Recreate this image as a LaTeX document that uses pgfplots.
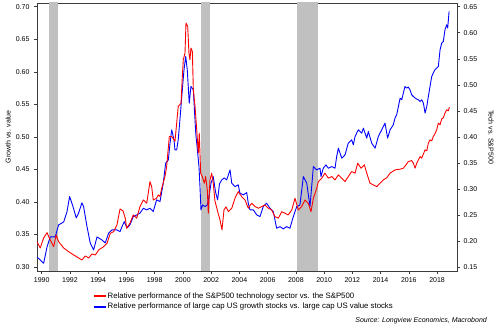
\documentclass[border=0pt]{standalone}
\usepackage{fontspec}
\setmainfont{Liberation Sans}
\usepackage{pgfplots}
\pgfplotsset{compat=1.18}
\definecolor{recgray}{RGB}{192,192,192}
\definecolor{lred}{RGB}{255,0,0}
\definecolor{lblue}{RGB}{0,0,255}
\definecolor{axgray}{RGB}{60,60,60}
\pgfplotsset{
  base/.style={
    scale only axis, width=420pt, height=268pt,
    at={(37pt,61pt)}, anchor=south west,
    xmin=1989.67, xmax=2019.41,
    axis line style={axgray, line width=0.6pt},
    tick style={axgray, line width=0.5pt},
    major tick length=3pt,
    tick align=outside,
    tick label style={font=\fontsize{7}{8}\selectfont, text=black},
    /pgf/number format/assume math mode=true,
  }
}
\begin{document}
\begin{tikzpicture}
\useasboundingbox (0,0) rectangle (500pt,332pt);
\begin{axis}[base,
  ymin=0.2938, ymax=0.7057,
  xtick={1990,1992,1994,1996,1998,2000,2002,2004,2006,2008,2010,2012,2014,2016,2018},
  xtick pos=bottom,
  xticklabel style={/pgf/number format/1000 sep={}},
  ytick={0.30,0.35,0.40,0.45,0.50,0.55,0.60,0.65,0.70},
  ytick pos=left,
  yticklabel style={/pgf/number format/fixed, /pgf/number format/fixed zerofill, /pgf/number format/precision=2, xshift=-1pt},
  ylabel={Growth vs. value},
  ylabel style={at={(axis description cs:-0.069,0.5)}, anchor=center, font=\fontsize{7}{8}\selectfont},
]
\addplot[fill=recgray, draw=none, forget plot] coordinates {(1990.52,0.71) (1991.18,0.71)} \closedcycle;
\addplot[fill=recgray, draw=none, forget plot] coordinates {(2001.26,0.71) (2001.92,0.71)} \closedcycle;
\addplot[fill=recgray, draw=none, forget plot] coordinates {(2008.05,0.71) (2009.55,0.71)} \closedcycle;
\addplot[lblue, line width=0.9pt, line join=round, forget plot] coordinates {
(1989.67,0.3154)(1990.14,0.3057)(1990.38,0.3308)(1990.61,0.3462)(1990.96,0.3462)(1991.20,0.3646)(1991.56,0.3692)(1991.79,0.3846)(1991.98,0.4082)(1992.22,0.3928)(1992.45,0.3754)(1992.62,0.3831)(1992.85,0.3985)(1992.97,0.3928)(1993.21,0.3620)(1993.44,0.3369)(1993.68,0.3262)(1993.92,0.3462)(1994.27,0.3415)(1994.50,0.3369)(1994.75,0.3523)(1994.98,0.3569)(1995.33,0.3569)(1995.55,0.3543)(1995.69,0.3620)(1995.85,0.3697)(1996.04,0.3600)(1996.25,0.3646)(1996.49,0.3774)(1996.73,0.3800)(1996.96,0.3826)(1997.20,0.3903)(1997.44,0.3877)(1997.67,0.3903)(1997.90,0.3851)(1998.14,0.4031)(1998.38,0.4005)(1998.61,0.4288)(1998.78,0.4595)(1998.97,0.4646)(1999.09,0.4903)(1999.21,0.5108)(1999.37,0.4954)(1999.44,0.4800)(1999.56,0.4800)(1999.67,0.4954)(1999.79,0.5262)(1999.96,0.5723)(2000.08,0.6031)(2000.20,0.6235)(2000.31,0.6031)(2000.45,0.5518)(2000.57,0.5774)(2000.74,0.5723)(2000.91,0.5057)(2001.05,0.4749)(2001.14,0.4543)(2001.21,0.4235)(2001.28,0.3877)(2001.40,0.3954)(2001.57,0.3928)(2001.73,0.3954)(2001.85,0.4082)(2001.99,0.4288)(2002.15,0.4389)(2002.31,0.4154)(2002.46,0.4031)(2002.59,0.4277)(2002.75,0.4338)(2002.93,0.4369)(2003.10,0.4338)(2003.34,0.4492)(2003.46,0.4288)(2003.69,0.4235)(2003.92,0.4262)(2004.04,0.4134)(2004.28,0.4108)(2004.52,0.4143)(2004.63,0.3980)(2004.75,0.3877)(2004.99,0.3877)(2005.23,0.3800)(2005.46,0.3774)(2005.69,0.3928)(2005.93,0.3980)(2006.17,0.3903)(2006.40,0.3851)(2006.64,0.3595)(2006.88,0.3620)(2007.11,0.3585)(2007.35,0.3620)(2007.58,0.3595)(2007.82,0.3774)(2008.06,0.3928)(2008.29,0.3954)(2008.53,0.4389)(2008.77,0.4288)(2009.00,0.3928)(2009.24,0.4543)(2009.48,0.4492)(2009.71,0.4518)(2009.78,0.4389)(2009.94,0.4518)(2010.13,0.4569)(2010.30,0.4518)(2010.54,0.4543)(2010.77,0.4518)(2010.89,0.4697)(2011.01,0.4826)(2011.25,0.4672)(2011.48,0.4723)(2011.71,0.4903)(2011.95,0.4954)(2012.07,0.4877)(2012.19,0.5005)(2012.42,0.5108)(2012.66,0.5057)(2012.78,0.5134)(2013.02,0.4980)(2013.13,0.5082)(2013.37,0.4903)(2013.61,0.4826)(2013.84,0.5005)(2014.08,0.5108)(2014.31,0.5211)(2014.50,0.4980)(2014.67,0.5108)(2014.90,0.5185)(2015.02,0.5288)(2015.14,0.5338)(2015.26,0.5466)(2015.38,0.5595)(2015.50,0.5569)(2015.61,0.5672)(2015.73,0.5774)(2015.85,0.5749)(2015.96,0.5765)(2016.08,0.5723)(2016.20,0.5646)(2016.32,0.5620)(2016.44,0.5595)(2016.56,0.5580)(2016.67,0.5569)(2016.79,0.5543)(2016.91,0.5569)(2017.03,0.5518)(2017.15,0.5365)(2017.27,0.5466)(2017.38,0.5620)(2017.50,0.5774)(2017.62,0.5928)(2017.73,0.5980)(2017.85,0.6031)(2017.97,0.6057)(2018.09,0.6082)(2018.21,0.6338)(2018.33,0.6442)(2018.44,0.6466)(2018.56,0.6646)(2018.68,0.6723)(2018.75,0.6672)(2018.85,0.6928)
};
\end{axis}
\begin{axis}[base,
  ymin=0.1423, ymax=0.6571,
  axis x line=none,
  axis y line*=right,
  ytick={0.15,0.20,0.25,0.30,0.35,0.40,0.45,0.50,0.55,0.60,0.65},
  yticklabel style={/pgf/number format/fixed, /pgf/number format/fixed zerofill, /pgf/number format/precision=2},
  ylabel={Tech vs. S\&P500},
  ylabel style={at={(axis description cs:1.081,0.5)}, anchor=center, rotate=180, font=\fontsize{7}{8}\selectfont},
  legend style={at={(axis description cs:0.136,-0.072)}, anchor=north west, draw=none, fill=none, inner sep=0pt,
    font=\fontsize{7.8}{8}\selectfont, row sep=-0.5pt,
    /tikz/every even column/.append style={column sep=0pt}},
  legend cell align=left,
]
\addplot[lred, line width=0.9pt, line join=round, forget plot] coordinates {
(1989.67,0.1987)(1989.90,0.1865)(1990.14,0.2058)(1990.38,0.2160)(1990.61,0.2019)(1990.85,0.1890)(1991.03,0.2115)(1991.20,0.1987)(1991.56,0.1865)(1991.91,0.1794)(1992.27,0.1731)(1992.62,0.1673)(1992.85,0.1635)(1993.09,0.1712)(1993.33,0.1673)(1993.56,0.1750)(1993.80,0.1731)(1994.04,0.1827)(1994.39,0.1890)(1994.63,0.1956)(1994.86,0.2148)(1995.10,0.2179)(1995.33,0.2308)(1995.55,0.2615)(1995.76,0.2577)(1995.92,0.2437)(1996.02,0.2244)(1996.25,0.2340)(1996.49,0.2500)(1996.73,0.2437)(1996.96,0.2660)(1997.20,0.2788)(1997.44,0.2725)(1997.67,0.3140)(1997.79,0.3044)(1997.90,0.2788)(1998.14,0.2821)(1998.26,0.2885)(1998.38,0.2852)(1998.50,0.3013)(1998.73,0.3237)(1998.85,0.3429)(1999.04,0.4006)(1999.21,0.4006)(1999.44,0.3913)(1999.67,0.4583)(1999.87,0.4648)(1999.96,0.5160)(2000.03,0.5481)(2000.15,0.5610)(2000.22,0.6187)(2000.34,0.6121)(2000.43,0.5610)(2000.50,0.5481)(2000.57,0.5706)(2000.67,0.5640)(2000.74,0.4904)(2000.86,0.4583)(2000.98,0.4135)(2001.09,0.3687)(2001.16,0.4071)(2001.26,0.3302)(2001.37,0.3237)(2001.52,0.3110)(2001.61,0.3237)(2001.73,0.2981)(2001.80,0.2533)(2001.92,0.3173)(2002.04,0.3302)(2002.15,0.3110)(2002.27,0.2769)(2002.51,0.2519)(2002.63,0.2404)(2002.77,0.2212)(2002.91,0.2596)(2003.05,0.2654)(2003.22,0.2563)(2003.46,0.2629)(2003.69,0.2821)(2003.92,0.2948)(2004.16,0.2852)(2004.40,0.2788)(2004.63,0.2629)(2004.87,0.2725)(2005.11,0.2660)(2005.34,0.2629)(2005.58,0.2660)(2005.81,0.2692)(2006.05,0.2629)(2006.29,0.2596)(2006.52,0.2467)(2006.76,0.2437)(2007.00,0.2563)(2007.23,0.2533)(2007.46,0.2500)(2007.71,0.2596)(2007.94,0.2821)(2008.17,0.2596)(2008.41,0.2660)(2008.65,0.2788)(2008.88,0.2725)(2009.07,0.2563)(2009.24,0.2821)(2009.48,0.3013)(2009.59,0.3140)(2009.83,0.3206)(2010.06,0.3302)(2010.30,0.3206)(2010.54,0.3237)(2010.77,0.3173)(2011.01,0.3269)(2011.25,0.3206)(2011.48,0.3140)(2011.71,0.3237)(2011.95,0.3333)(2012.19,0.3302)(2012.38,0.3494)(2012.61,0.3398)(2012.85,0.3462)(2013.02,0.3302)(2013.25,0.3110)(2013.48,0.3077)(2013.73,0.3044)(2013.96,0.3110)(2014.19,0.3173)(2014.43,0.3212)(2014.67,0.3302)(2015.02,0.3365)(2015.38,0.3379)(2015.61,0.3398)(2015.80,0.3462)(2015.96,0.3525)(2016.20,0.3544)(2016.32,0.3494)(2016.44,0.3398)(2016.56,0.3494)(2016.79,0.3621)(2016.91,0.3590)(2017.15,0.3750)(2017.27,0.3731)(2017.38,0.3879)(2017.50,0.3942)(2017.62,0.3923)(2017.73,0.4006)(2017.85,0.4058)(2017.97,0.4135)(2018.09,0.4263)(2018.21,0.4231)(2018.33,0.4346)(2018.44,0.4365)(2018.56,0.4456)(2018.68,0.4519)(2018.80,0.4500)(2018.87,0.4571)
};
\addlegendimage{legend image code/.code={\fill[color=lred, fill=lred] (0pt,-0.45pt) rectangle (11pt,0.45pt);}}
\addlegendentry{Relative performance of the S\&P500 technology sector vs. the S\&P500}
\addlegendimage{legend image code/.code={\fill[color=lblue, fill=lblue] (0pt,-0.45pt) rectangle (11pt,0.45pt);}}
\addlegendentry{Relative performance of large cap US growth stocks vs. large cap US value stocks}
\end{axis}
\node[anchor=east, font=\fontsize{7}{8}\selectfont\itshape, inner sep=0pt] at (487pt,11.3pt) {Source: Longview Economics, Macrobond};
\end{tikzpicture}
\end{document}
